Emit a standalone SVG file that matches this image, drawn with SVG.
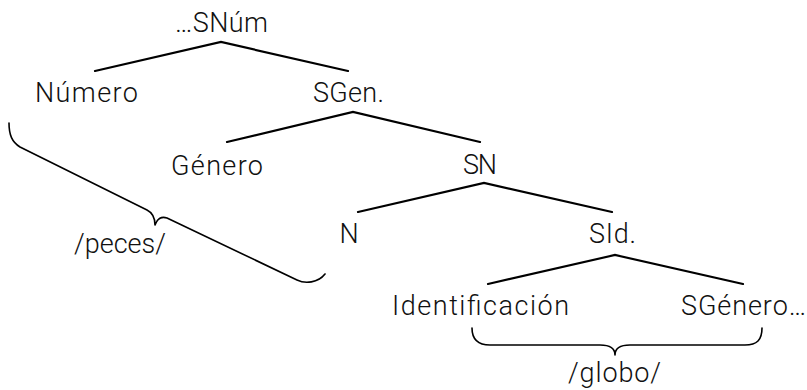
<svg xmlns="http://www.w3.org/2000/svg" width="807" height="390" viewBox="0 0 807 390">
<style>
text{font-family:Roboto,"Open Sans","DejaVu Sans",sans-serif;font-weight:300;font-size:27px;fill:#111;text-anchor:middle}
.edge{stroke:#000;stroke-width:2.2;fill:none;stroke-linecap:round}
.brace{stroke:#000;stroke-width:1.6;fill:none;stroke-linecap:round;stroke-linejoin:round}
</style>
<rect width="807" height="390" fill="#fff"/>
<g id="connectors">
<path class="edge" d="M95,71 L221,42 L348,71"/>
<path class="edge" d="M227,142 L353,112 L480,142"/>
<path class="edge" d="M358,212 L484,183 L612,212"/>
<path class="edge" d="M488,284 L615,255 L743,284"/>
<path class="brace" d="M9,123 C9,135 12,142 20,147 L147,210 C153,213 155,218 155,225 C157,219 161,216 167,218 L297,280 C305,284 318,283 325,274"/>
<path class="brace" d="M472,328 C472,340 478,345 490,345 L600,345 C610,345 615,348 615,355 C615,348 620,345 630,345 L745,345 C757,345 762,340 762,328"/>
</g>
<g id="n-snum"><text x="221.5" y="32" textLength="93" lengthAdjust="spacing">…SNúm</text></g>
<g id="n-numero"><text x="86.5" y="102" textLength="103" lengthAdjust="spacing">Número</text></g>
<g id="n-sgen"><text x="348.5" y="102" textLength="71" lengthAdjust="spacing">SGen.</text></g>
<g id="n-genero"><text x="217" y="175" textLength="92" lengthAdjust="spacing">Género</text></g>
<g id="n-sn"><text x="480" y="174" textLength="34" lengthAdjust="spacing">SN</text></g>
<g id="n-n"><text x="349" y="243">N</text></g>
<g id="n-sid"><text x="612.5" y="243" textLength="47" lengthAdjust="spacing">SId.</text></g>
<g id="n-ident"><text x="480.5" y="315" textLength="177" lengthAdjust="spacing">Identificación</text></g>
<g id="n-sgenero"><text x="743.5" y="315" textLength="125" lengthAdjust="spacing">SGénero…</text></g>
<g id="l-peces"><text x="120" y="253" textLength="92" lengthAdjust="spacing">/peces/</text></g>
<g id="l-globo"><text x="614.5" y="382" textLength="93" lengthAdjust="spacing">/globo/</text></g>
</svg>
